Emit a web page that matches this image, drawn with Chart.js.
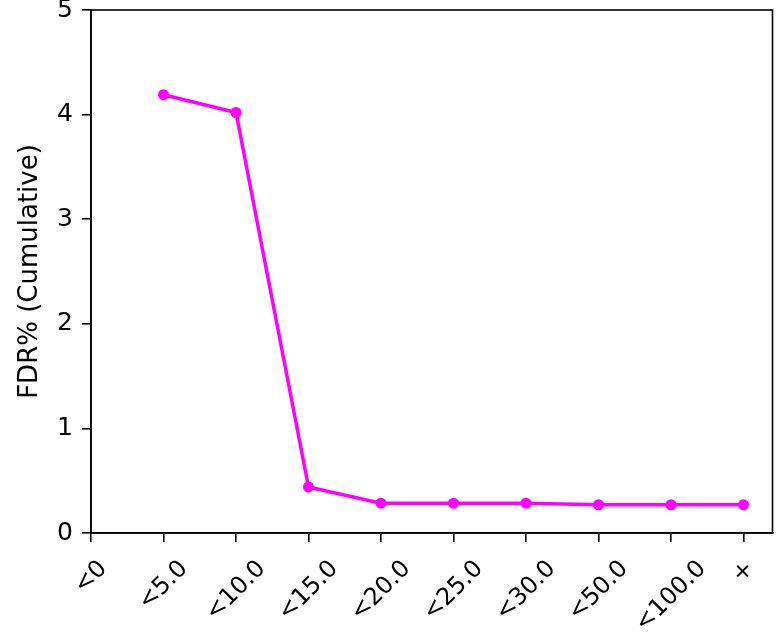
<!DOCTYPE html>
<html>
<head>
<meta charset="utf-8">
<script src="https://cdn.jsdelivr.net/npm/chart.js@4.4.1/dist/chart.umd.min.js"></script>
<style>
  html, body { margin: 0; padding: 0; background: #fff; }
</style>
</head>
<body>
<canvas id="fdrChart" width="778" height="633"></canvas>
<script>
// data
const categories = ['<0', '<5.0', '<10.0', '<15.0', '<20.0', '<25.0', '<30.0', '<50.0', '<100.0', '+'];
const fdrValues = [null, 4.19, 4.02, 0.44, 0.285, 0.285, 0.285, 0.27, 0.27, 0.27];
const yTicks = [0, 1, 2, 3, 4, 5];

const FONT_FAMILY = '"DejaVu Sans", sans-serif';
const X_FONT_SIZE = 24;
const font = { family: FONT_FAMILY, size: 25 };

// matplotlib-style rotated labels, centred under each tick
const xLabels = {
    id: 'xLabels',
    afterDraw(chart) {
        const ctx = chart.ctx;
        const xs = chart.scales.x;
        const top = chart.chartArea.bottom + 22;
        ctx.save();
        ctx.font = `${X_FONT_SIZE}px ${FONT_FAMILY}`;
        ctx.fillStyle = '#000';
        ctx.textAlign = 'center';
        ctx.textBaseline = 'middle';
        categories.forEach((label, i) => {
            const w = ctx.measureText(label).width;
            const half = (w + X_FONT_SIZE * 1.17) / Math.SQRT2 / 2;
            ctx.save();
            ctx.translate(xs.getPixelForValue(i), top + half);
            ctx.rotate(-Math.PI / 4);
            ctx.fillText(label, 0, 0);
            ctx.restore();
        });
        ctx.restore();
    }
};

// box round the plot (all four spines)
const frame = {
    id: 'frame',
    afterDraw(chart) {
        const { left, top, right, bottom } = chart.chartArea;
        const ctx = chart.ctx;
        ctx.save();
        ctx.strokeStyle = '#000';
        ctx.lineWidth = 1.6;
        ctx.strokeRect(left, top, right - left, bottom - top);
        ctx.restore();
    }
};

new Chart(document.getElementById('fdrChart'), {
    type: 'line',
    data: {
        datasets: [{
            data: fdrValues.map((v, i) => ({ x: i, y: v })),
            borderColor: '#ff00ff',
            backgroundColor: '#ff00ff',
            borderWidth: 3.5,
            pointRadius: 5.5,
            pointBorderWidth: 0,
            pointBackgroundColor: '#ff00ff',
            tension: 0,
            spanGaps: false
        }]
    },
    options: {
        responsive: false,
        animation: false,
        layout: { padding: { top: 10, right: 5, left: 0, bottom: 0 } },
        plugins: { legend: { display: false }, tooltip: { enabled: false } },
        scales: {
            x: {
                type: 'linear',
                min: 0,
                max: categories.length - 0.6,
                afterBuildTicks: s => { s.ticks = categories.map((_, i) => ({ value: i })); },
                afterFit: s => { s.height = 100; s.paddingLeft = 0; s.paddingRight = 0; },
                grid: { drawOnChartArea: false, tickLength: 9, color: '#000', lineWidth: 1.6 },
                border: { color: '#000', width: 1.6 },
                ticks: { display: false }
            },
            y: {
                min: 0,
                max: 5,
                afterBuildTicks: s => { s.ticks = yTicks.map(v => ({ value: v })); },
                afterFit: s => { s.width = 91; s.paddingTop = 0; s.paddingBottom = 0; },
                grid: { drawOnChartArea: false, tickLength: 9, color: '#000', lineWidth: 1.6 },
                border: { color: '#000', width: 1.6 },
                ticks: { font, color: '#000', padding: 9 },
                title: {
                    display: true,
                    text: 'FDR% (Cumulative)',
                    font: { family: FONT_FAMILY, size: 26 },
                    color: '#000',
                    padding: { top: 15, bottom: 0 }
                }
            }
        }
    },
    plugins: [xLabels, frame]
});
</script>
</body>
</html>
